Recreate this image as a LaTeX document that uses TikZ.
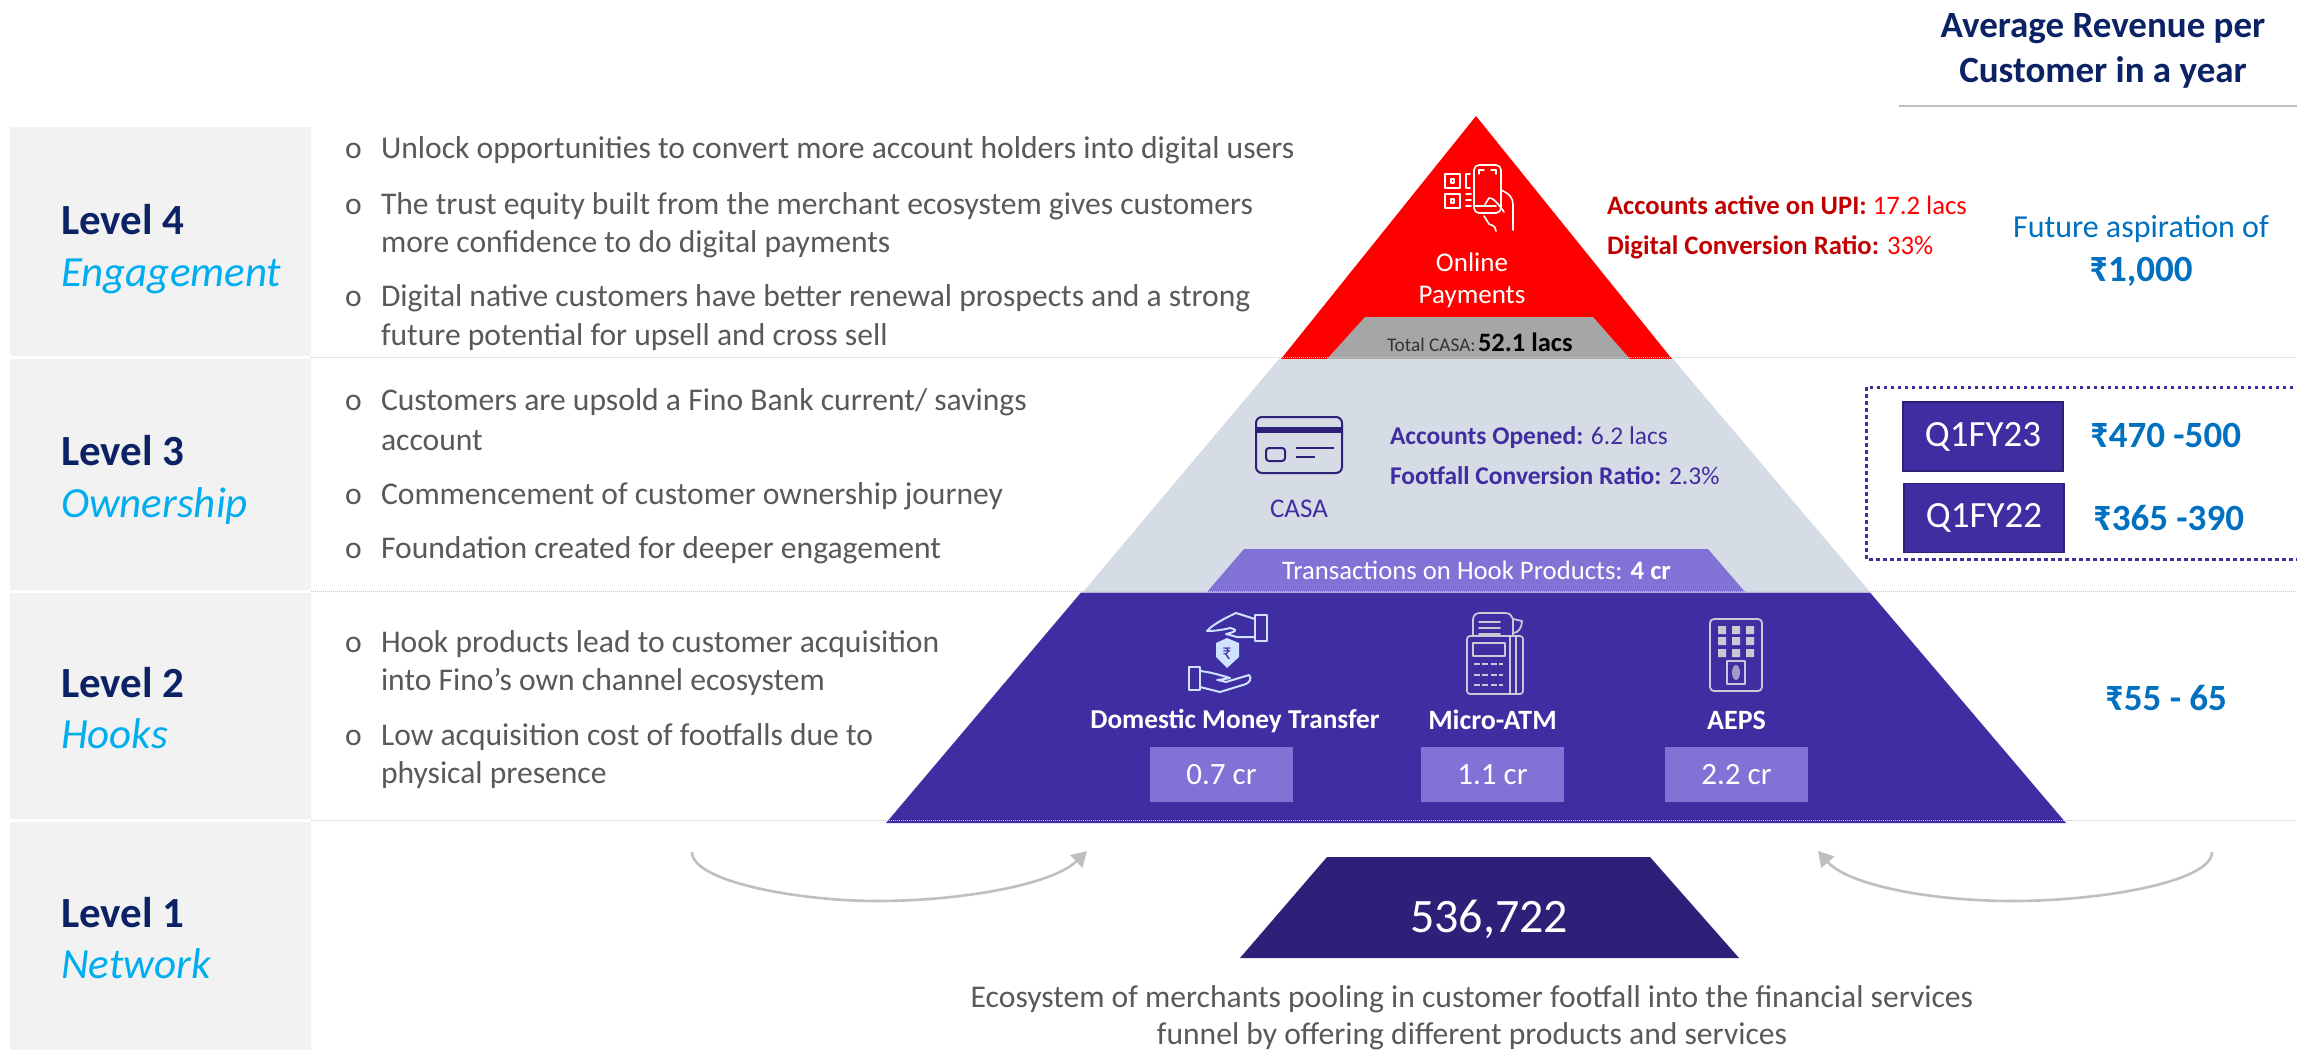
\documentclass[tikz,border=0pt]{standalone}
\usepackage{fontspec}
\setmainfont{Carlito}
\usetikzlibrary{arrows.meta,calc}
\definecolor{navy}{HTML}{0B2265}
\definecolor{cyanT}{HTML}{00AEEF}
\definecolor{bodyT}{HTML}{595959}
\definecolor{panel}{HTML}{F2F2F2}
\definecolor{redF}{HTML}{FF0000}
\definecolor{redD}{HTML}{C00000}
\definecolor{grayF}{HTML}{A6A6A6}
\definecolor{lightF}{HTML}{D6DCE5}
\definecolor{purp}{HTML}{3F2DA2}
\definecolor{purpL}{HTML}{8172D6}
\definecolor{purpD}{HTML}{2E2079}
\definecolor{blueT}{HTML}{0070C0}
\definecolor{sep}{HTML}{C8C8C8}
\definecolor{arrowG}{HTML}{BFBFBF}
\definecolor{iconG}{HTML}{C9C9D6}
\definecolor{iconB}{HTML}{CFE2FF}
\newcommand{\fs}[1]{\fontsize{#1}{#1}\selectfont}
\newcommand{\rp}{\char"20B9\relax}
\newcommand{\dn}[1]{\raisebox{-3pt}{#1}}
\tikzset{
 x=1pt,y=-1pt,
 sz/.style={font=\fs{#1},yshift={-0.31*#1 pt}},
 szb/.style={font=\fs{#1}\bfseries,yshift={-0.31*#1 pt}},
 szi/.style={font=\fs{#1}\itshape,yshift={-0.31*#1 pt}},
 txt/.style={inner sep=0pt,outer sep=0pt,anchor=mid west,align=left},
 ctr/.style={inner sep=0pt,outer sep=0pt,anchor=mid,align=center},
 body/.style={txt,text=bodyT,sz=31.6},
 lvl/.style={txt,text=navy,szb=43},
 lvi/.style={txt,text=cyanT,szi=43},
 panelbox/.style={fill=panel,draw=none},
 sepline/.style={draw=sep,line width=1pt,densely dotted},
 rounda/.style={draw=arrowG,line width=2.6pt,-{Triangle[length=15pt,width=17pt]}},
 hdr/.style={ctr,text=navy,szb=37},
 val/.style={txt,text=blueT,szb=37},
 qbox/.style={fill=purp,draw=purpD,line width=1.5pt,inner sep=0pt,text=white,font=\fs{37}},
 smallrect/.style={fill=purpL,draw=none,inner sep=0pt,text=white,font=\fs{31}},
 hook/.style={ctr,text=white},
 icw/.style={draw=white,line width=1.6pt,line join=round,line cap=round},
 icg/.style={draw=iconG,line width=1.8pt,line join=round,line cap=round},
 icb/.style={draw=iconB,line width=2pt,line join=round,line cap=round},
 icp/.style={draw=purpD,line width=2pt,line join=round},
}
\begin{document}
\begin{tikzpicture}
\useasboundingbox[fill=white] (0,0) rectangle (2297,1050);
% left panels
\fill[panelbox] (10,127) rectangle (311,356);
\fill[panelbox] (10,359) rectangle (311,590);
\fill[panelbox] (10,593) rectangle (311,819);
\fill[panelbox] (10,822) rectangle (311,1050);
% pyramid
\fill[redF] (1476,116)--(1672,359)--(1281,359)--cycle;
\fill[grayF] (1365,317)--(1593,317)--(1630,359)--(1327,359)--cycle;
\fill[lightF] (1279,359)--(1673,359)--(1870,592)--(1083,592)--cycle;
\fill[purpL] (1244,549)--(1708,549)--(1745,592)--(1207,592)--cycle;
\fill[purp] (1081,592.5)--(1870,592.5)--(2066,823)--(886,823)--cycle;
\fill[purpD] (1327,857)--(1650,857)--(1739,958)--(1240,958)--cycle;
% separators
\draw[sepline] (311,357.5)--(2297,357.5);
\draw[sepline] (311,591)--(2297,591);
\draw[sepline] (311,820)--(2297,820);
% left labels
\node[lvl] (l4) at (61,219) {Level 4};
\node[lvi] (e4) at (61,271) {Engagement};
\node[lvl] (l3) at (61,450) {Level 3};
\node[lvi] (e3) at (61,502) {Ownership};
\node[lvl] (l2) at (61,682) {Level 2};
\node[lvi] (e2) at (61,733) {Hooks};
\node[lvl] (l1) at (61,912) {Level 1};
\node[lvi] (e1) at (61,963) {Network};
% body text
\node[body] (b1) at (345,146) {o};
\node[body] (t1) at (381,146) {Unlock opportunities to convert more account holders into digital users};
\node[body] (b2) at (345,202) {o};
\node[body] (t2) at (381,202) {The trust equity built from the merchant ecosystem gives customers};
\node[body] (t2b) at (381,240) {more confidence to do digital payments};
\node[body] (b3) at (345,294) {o};
\node[body] (t3) at (381,294) {Digital native customers have better renewal prospects and a strong};
\node[body] (t3b) at (381,333) {future potential for upsell and cross sell};
\node[body] (b4) at (345,398) {o};
\node[body] (t4) at (381,398) {Customers are upsold a Fino Bank current/ savings};
\node[body] (t4b) at (381,438) {account};
\node[body] (b5) at (345,492) {o};
\node[body] (t5) at (381,492) {Commencement of customer ownership journey};
\node[body] (b6) at (345,546) {o};
\node[body] (t6) at (381,546) {Foundation created for deeper engagement};
\node[body] (b7) at (345,640) {o};
\node[body] (t7) at (381,640) {Hook products lead to customer acquisition};
\node[body] (t7b) at (381,678) {into Fino’s own channel ecosystem};
\node[body] (b8) at (345,733) {o};
\node[body] (t8) at (381,733) {Low acquisition cost of footfalls due to};
\node[body] (t8b) at (381,771) {physical presence};
% top triangle texts
\node[ctr,text=white,sz=27] (op1) at (1472,261) {Online};
\node[ctr,text=white,sz=27] (op2) at (1472,293) {Payments};
\node[txt,text=black!80,sz=19.3] (tc) at (1387,343) {Total CASA:};
\node[txt,text=black,szb=26.5] (tcv) at (1478,341) {52.1 lacs};
\node[txt,sz=26.7] (r1) at (1607,204) {\textcolor{redD}{\bfseries Accounts active on UPI:} \textcolor{redF}{17.2 lacs}};
\node[txt,sz=26.7] (r2) at (1607,244) {\textcolor{redD}{\bfseries Digital Conversion Ratio:} \textcolor{redF}{33\%}};
% CASA
\node[ctr,text=purp,sz=27] (casa) at (1299,507) {CASA};
\node[txt,sz=25.5,text=purp] (c1) at (1390,434) {\bfseries Accounts Opened: \mdseries 6.2 lacs};
\node[txt,sz=25.5,text=purp] (c2) at (1390,474) {\bfseries Footfall Conversion Ratio: \mdseries 2.3\%};
\node[txt,sz=26.7,text=white] (tx) at (1282,569) {Transactions on Hook Products: \textbf{4 cr}};
% hook labels
\node[hook,szb=27.3] (h1) at (1235,718) {Domestic Money Transfer};
\node[hook,szb=28] (h2) at (1492.5,718) {Micro-ATM};
\node[hook,szb=28] (h3) at (1736.5,718) {AEPS};
\node[smallrect,minimum width=143pt,minimum height=55pt] (v1) at (1221.5,774.5) {\dn{0.7 cr}};
\node[smallrect,minimum width=143pt,minimum height=55pt] (v2) at (1492.5,774.5) {\dn{1.1 cr}};
\node[smallrect,minimum width=143pt,minimum height=55pt] (v3) at (1736.5,774.5) {\dn{2.2 cr}};
% bottom
\node[ctr,text=white,sz=48] (num) at (1489,915) {536,722};
\node[ctr,text=bodyT,sz=31.6] (eco1) at (1472,995) {Ecosystem of merchants pooling in customer footfall into the financial services};
\node[ctr,text=bodyT,sz=31.6] (eco2) at (1472,1032) {funnel by offering different products and services};
% arrows
\coordinate (a1s) at (692,852); \coordinate (a1m) at (877,901); \coordinate (a1e) at (1087,851);
\coordinate (a2s) at (2212,852); \coordinate (a2m) at (2013,901); \coordinate (a2e) at (1818,851);
\draw[rounda] (a1s) .. controls (692,882) and (800,901) .. (a1m) .. controls (960,901) and (1052,885) .. (a1e);
\draw[rounda] (a2s) .. controls (2212,882) and (2100,901) .. (a2m) .. controls (1930,901) and (1848,885) .. (a2e);
% right column
\node[hdr] (hd1) at (2103,24) {Average Revenue per};
\node[hdr] (hd2) at (2103,69) {Customer in a year};
\coordinate (ru1) at (1899,106); \coordinate (ru2) at (2297,106);
\draw[draw=arrowG,line width=1.2pt] (ru1)--(ru2);
\node[ctr,text=blueT,sz=32] (fa) at (2141,225) {Future aspiration of};
\node[ctr,text=blueT,szb=37] (fv) at (2141,268) {\rp1,000};
\draw[draw=purp,line width=3pt,dash pattern=on 3.5pt off 3.5pt] (2300,387)--(1866,387)--(1866,559)--(2300,559);
\node[qbox,minimum width=160pt,minimum height=69pt] (q1) at (1983,436.5) {\dn{Q1FY23}};
\node[qbox,minimum width=160pt,minimum height=69pt] (q2) at (1984,518) {\dn{Q1FY22}};
\node[val] (v23) at (2090,434) {\rp470 -500};
\node[val] (v22) at (2093,517) {\rp365 -390};
\node[ctr,text=blueT,szb=37] (v55) at (2166,697) {\rp55 - 65};
% phone icon
\draw[icw,rounded corners=5pt] (1474,165) rectangle (1501,213);
\draw[icw,line width=1.2pt] (1479,174)--(1479,170)--(1484,170) (1491,170)--(1496,170)--(1496,174);
\draw[icw] (1474,206)--(1496,206);
\draw[icw] (1501,190) .. controls (1510,194) and (1513,198) .. (1513,205)--(1513,230);
\draw[icw] (1484,206)--(1489,198) .. controls (1492,197) and (1498,203) .. (1504,212);
\draw[icw] (1484,216)--(1489,224) .. controls (1495,226) and (1496,228) .. (1496,231);
\draw[icw] (1445,174) rectangle (1460,188);
\draw[icw] (1451,179) rectangle (1454,183);
\draw[icw] (1445,194) rectangle (1460,208);
\draw[icw] (1451,199) rectangle (1454,203);
\draw[icw] (1470,174)--(1466,174)--(1466,188)--(1470,188);
\draw[icw] (1466,194)--(1471,194) (1466,200)--(1471,200) (1466,206)--(1471,206);
% card icon
\draw[icp,rounded corners=6pt] (1256,417) rectangle (1342,473);
\fill[purpD] (1256,427) rectangle (1342,433);
\draw[icp,rounded corners=3pt] (1266,448) rectangle (1285,461);
\draw[icp] (1296,448)--(1334,448) (1296,457)--(1315,457);
% DMT icon
\draw[icb] (1255,615) rectangle (1267,641);
\draw[icb] (1255,619)--(1236,613) .. controls (1225,618) and (1212,625) .. (1207,631) .. controls (1215,631) and (1222,630) .. (1230,628) .. controls (1235,629) and (1240,631) .. (1226,634) -- (1237,637)--(1255,637);
\draw[icb] (1200,667) rectangle (1189,690);
\draw[icb] (1200,671) .. controls (1210,672) and (1220,675) .. (1230,678) .. controls (1220,680) and (1215,680) .. (1218,680) -- (1226,682)--(1249,675) .. controls (1252,678) and (1250,682) .. (1246,684)--(1220,692)--(1200,687);
\fill[iconB] (1216,643)--(1227,638)--(1239,643)--(1239,657)--(1227,668)--(1216,657)--cycle;
\node[ctr,text=purp,sz=18] (rpi) at (1227,652) {\rp};
% ATM icon
\draw[icg,rounded corners=3pt] (1467,636) rectangle (1523,694);
\draw[icg] (1510,636)--(1510,694) (1516,636)--(1516,694);
\draw[icg] (1473,643) rectangle (1505,656);
\draw[icg] (1473,636)--(1473,620) .. controls (1473,615) and (1476,613) .. (1480,613)--(1505,613) .. controls (1510,613) and (1512,616) .. (1513,619)--(1513,636);
\draw[icg] (1513,619)--(1522,621) .. controls (1522,628) and (1518,633) .. (1513,633);
\draw[icg] (1479,622)--(1500,622) (1479,628)--(1500,628) (1479,634)--(1500,634);
\draw[icg,dash pattern=on 6pt off 2.4pt,line cap=butt] (1474,664)--(1503,664) (1474,675)--(1503,675) (1474,685)--(1503,685);
% AEPS icon
\draw[icg,rounded corners=4pt] (1710,619) rectangle (1762,691);
\fill[iconG] (1718,626) rectangle (1726,634) (1732,626) rectangle (1740,634) (1746,626) rectangle (1754,634)
 (1718,637) rectangle (1726,645) (1732,637) rectangle (1740,645) (1746,637) rectangle (1754,645)
 (1718,649) rectangle (1726,657) (1732,649) rectangle (1740,657) (1746,649) rectangle (1754,657);
\draw[icg] (1727,661) rectangle (1745,684);
\fill[iconG!70!purp] (1736,672.5) ellipse (4 and 7.5);
\end{tikzpicture}
\end{document}
